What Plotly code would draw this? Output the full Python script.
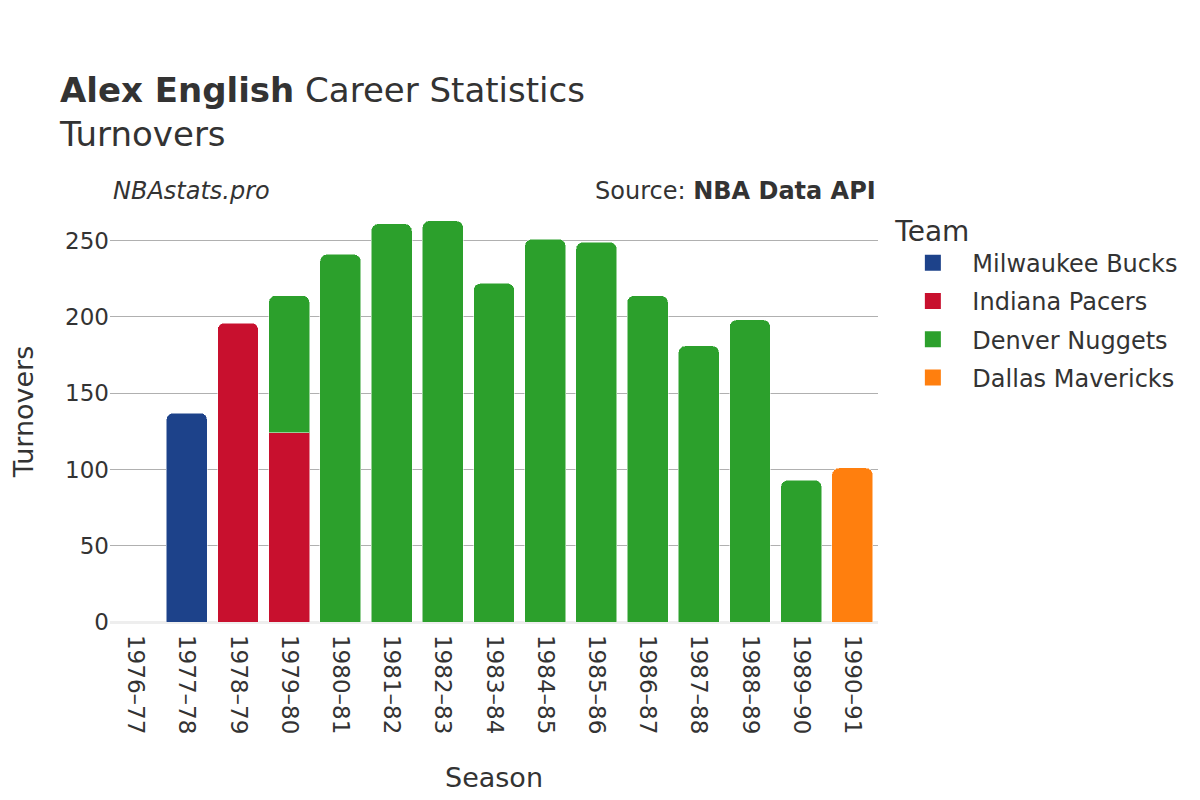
import plotly.graph_objects as go

seasons = ["1976–77", "1977–78", "1978–79", "1979–80", "1980–81", "1981–82",
           "1982–83", "1983–84", "1984–85", "1985–86", "1986–87", "1987–88",
           "1988–89", "1989–90", "1990–91"]

# turnovers per team, season by season (None = not with that team)
bucks = [0, 137, None, None, None, None, None, None, None, None, None, None, None, None, None]
pacers = [None, None, 196, 124, None, None, None, None, None, None, None, None, None, None, None]
nuggets = [None, None, None, 90, 241, 261, 263, 222, 251, 249, 214, 181, 198, 93, None]
mavericks = [None, None, None, None, None, None, None, None, None, None, None, None, None, None, 101]

teams = ["Milwaukee Bucks", "Indiana Pacers", "Denver Nuggets", "Dallas Mavericks"]
values = [bucks, pacers, nuggets, mavericks]
colors = ["#1d428a", "#c8102e", "#2ca02c", "#ff7f0e"]

fig = go.Figure()
for team, vals, col in zip(teams, values, colors):
    fig.add_trace(go.Bar(
        name=team,
        x=seasons,
        y=vals,
        legendgroup=team,
        showlegend=False,
        marker=dict(color=col, line=dict(color="rgba(255,255,255,0.5)", width=1)),
    ))
    # legend entry with a bigger swatch
    fig.add_trace(go.Scatter(
        name=team,
        x=[None], y=[None],
        mode="markers",
        legendgroup=team,
        marker=dict(color=col, symbol="square", size=22),
    ))

fig.update_layout(
    barmode="stack",
    bargap=0.2,
    barcornerradius=7,
    width=1200,
    height=800,
    font=dict(family="DejaVu Sans", color="#333333", size=22),
    plot_bgcolor="white",
    paper_bgcolor="white",
    title=dict(
        text="<b>Alex English</b> Career Statistics<br>Turnovers",
        x=0.0433, xanchor="left", y=0.883, yanchor="middle", yref="container",
        font=dict(size=34),
    ),
    margin=dict(l=102, r=330, t=193, b=186),
    legend=dict(
        title=dict(text="Team", font=dict(size=28)),
        x=1.02, xanchor="left", y=0.992, yanchor="top",
        font=dict(size=24),
        itemsizing="trace",
        itemwidth=69,
        traceorder="grouped",
        tracegroupgap=4,
    ),
    xaxis=dict(
        title=dict(text="Season", font=dict(size=27), standoff=34),
        tickangle=90,
        tickfont=dict(size=23),
        ticklabelstandoff=12,
        showgrid=False,
        automargin=False,
    ),
    yaxis=dict(
        title=dict(text="Turnovers", font=dict(size=27), standoff=36),
        tickfont=dict(size=23),
        gridcolor="#b0b0b0",
        gridwidth=1,
        zeroline=True,
        zerolinecolor="#eeeeee",
        zerolinewidth=3,
        range=[0, 276],
        tickvals=[0, 50, 100, 150, 200, 250],
        automargin=False,
    ),
    annotations=[
        dict(text="<i>NBAstats.pro</i>", xref="paper", yref="paper",
             x=0.001, y=1.024, xanchor="left", yanchor="middle",
             showarrow=False, font=dict(size=24)),
        dict(text="Source: <b>NBA Data API</b>", xref="paper", yref="paper",
             x=1.0, y=1.024, xanchor="right", yanchor="middle",
             showarrow=False, font=dict(size=24)),
    ],
)

fig.write_html("out.html")
